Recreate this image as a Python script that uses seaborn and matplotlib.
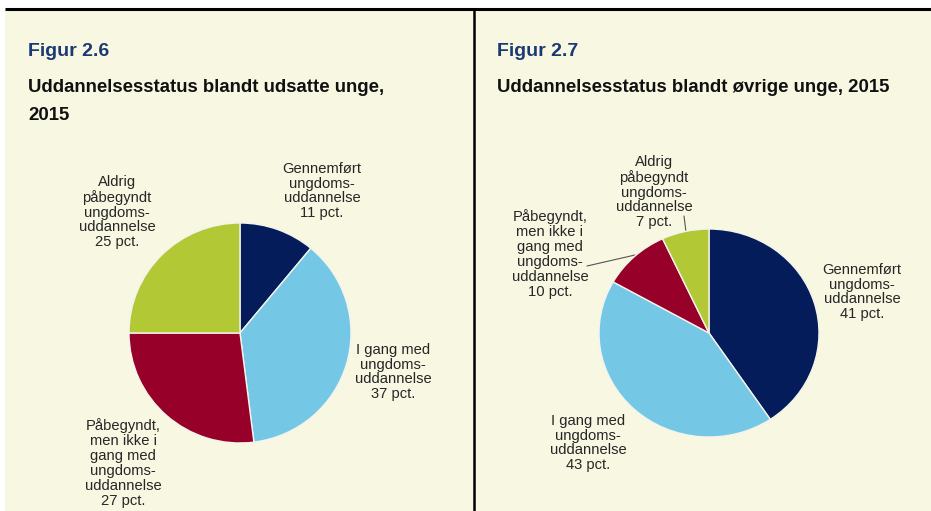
import matplotlib
matplotlib.use("Agg")
import matplotlib.pyplot as plt
import seaborn as sns

# ---- data ----
categories = ["Gennemført ungdoms-uddannelse", "I gang med ungdoms-uddannelse",
              "Påbegyndt, men ikke i gang med ungdoms-uddannelse",
              "Aldrig påbegyndt ungdoms-uddannelse"]
values_udsatte = [11, 37, 27, 25]
values_ovrige = [41, 43, 10, 7]
label_text = ["Gennemført\nungdoms-\nuddannelse", "I gang med\nungdoms-\nuddannelse",
              "Påbegyndt,\nmen ikke i\ngang med\nungdoms-\nuddannelse",
              "Aldrig\npåbegyndt\nungdoms-\nuddannelse"]
fig_labels = ["Figur 2.6", "Figur 2.7"]
titles = ["Uddannelsesstatus blandt udsatte unge,\n2015",
          "Uddannelsesstatus blandt øvrige unge, 2015"]

sns.set_theme(style="white")
plt.rcParams['font.family'] = ['Liberation Sans', 'DejaVu Sans']

colors = sns.color_palette(["#041C5A", "#74C8E6", "#970029", "#B2C834"])
cream = "#F8F7E2"
W, H = 931, 511
fig = plt.figure(figsize=(W / 100, H / 100), dpi=100, facecolor="white")

bg = fig.add_axes([0, 0, 1, 1])
bg.set_xlim(0, W)
bg.set_ylim(H, 0)
bg.axis("off")
bg.add_patch(plt.Rectangle((5, 9), W - 5, H - 9, facecolor=cream, edgecolor="none", zorder=0))
bg.plot([5, W], [9, 9], color="black", lw=2.2, solid_capstyle="butt", zorder=1)
bg.plot([474, 474], [9, H], color="black", lw=1.8, solid_capstyle="butt", zorder=1)

title_blue = "#1B3A73"
for x0, fl, tt in zip([28, 497], fig_labels, titles):
    bg.text(x0, 51, fl, color=title_blue, fontsize=14, fontweight="bold", va="center", ha="left")
    for i, line in enumerate(tt.split("\n")):
        bg.text(x0, 87 + 28 * i, line, color="#111111", fontsize=13.4, fontweight="bold",
                va="center", ha="left")

def add_pie(cx, cy, rx, ry, vals):
    ax = fig.add_axes([(cx - rx) / W, 1 - (cy + ry) / H, 2 * rx / W, 2 * ry / H])
    ax.pie(vals, colors=colors, startangle=90, counterclock=False,
           wedgeprops=dict(edgecolor="#F4F4EC", linewidth=1.0))
    ax.set_xlim(-1, 1)
    ax.set_ylim(-1, 1)
    ax.set_aspect("auto")
    ax.axis("off")
    ax.patch.set_alpha(0)
    return ax

add_pie(240, 333, 111, 110, values_udsatte)
add_pie(709, 333, 110, 104, values_ovrige)

lab_kw = dict(color="#262626", fontsize=10.6, ha="center", va="center", linespacing=1.08)
pos1 = [(322, 191), (393, 372), (123, 463), (117, 212)]
pos2 = [(862, 292), (588, 443), (550, 254), (654, 192)]
for (x, y), t, v in zip(pos1, label_text, values_udsatte):
    bg.text(x, y, f"{t}\n{v} pct.", **lab_kw)
for (x, y), t, v in zip(pos2, label_text, values_ovrige):
    bg.text(x, y, f"{t}\n{v} pct.", **lab_kw)
bg.plot([587, 635], [266, 255], color="#555555", lw=0.8)
bg.plot([684, 686], [216, 232], color="#555555", lw=0.8)

fig.savefig("out.png", dpi=100, facecolor="white")
